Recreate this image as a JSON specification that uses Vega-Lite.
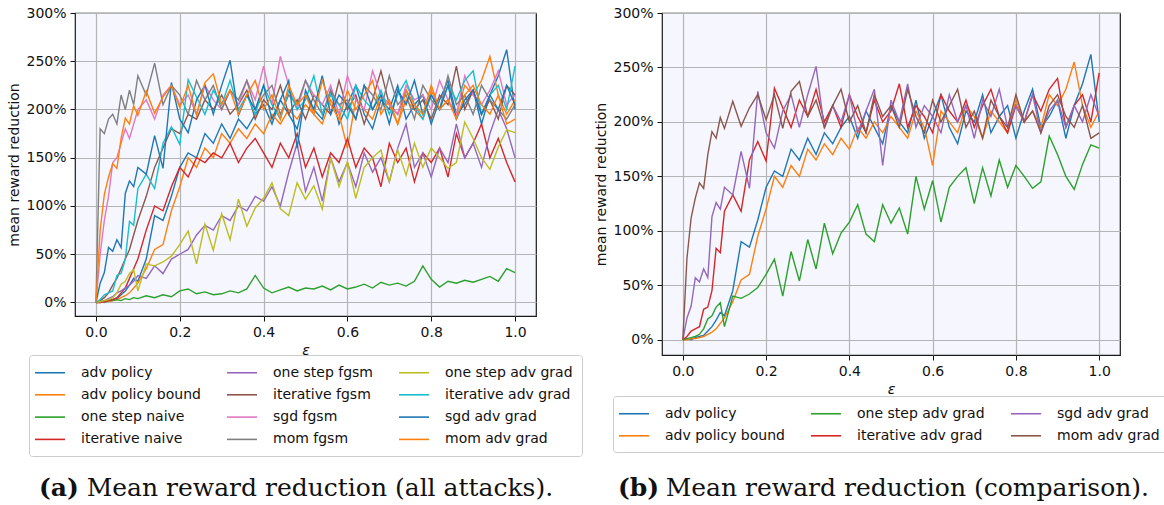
{
  "$schema": "https://vega.github.io/schema/vega-lite/v6.json",
  "background": "white",
  "padding": {"left": 7, "top": 5, "right": 0, "bottom": 0},
  "bounds": "flush",
  "spacing": 126,
  "config": {
    "font": "DejaVu Sans",
    "view": {"fill": "#f6f7fe", "stroke": "#1a1a1a", "strokeWidth": 1.2},
    "axis": {
      "labelFont": "DejaVu Sans", "labelFontSize": 14, "labelColor": "#111111",
      "titleFont": "DejaVu Sans", "titleFontSize": 14, "titleColor": "#111111", "titleFontWeight": "normal",
      "tickColor": "#111111", "tickSize": 5, "tickWidth": 1, "domain": false,
      "gridColor": "#b4b4b4", "gridWidth": 1.2, "labelPadding": 4, "titlePadding": 4
    },
    "legend": {
      "labelFont": "DejaVu Sans", "labelFontSize": 14, "labelColor": "#111111",
      "symbolType": "M-2,0H2", "symbolSize": 225, "symbolStrokeWidth": 1.6, "symbolOffset": 3.5,
      "labelOffset": 22.5, "columnPadding": 22, "rowPadding": 6.3, "padding": 9,
      "strokeColor": "#cccccc", "fillColor": "white", "cornerRadius": 3, "labelLimit": 0
    },
    "title": {
      "font": "DejaVu Serif", "fontSize": 25, "fontWeight": "bold", "color": "#111111",
      "subtitleFont": "DejaVu Serif", "subtitleFontSize": 25, "subtitleFontWeight": "normal", "subtitleColor": "#111111",
      "subtitlePadding": -25
    }
  },
  "resolve": {"scale": {"color": "independent"}, "legend": {"color": "independent"}},
  "datasets": {
    "runs": [
      {"e":0,"k":"adv policy","v":0},{"e":0.01,"k":"adv policy","v":1},{"e":0.02,"k":"adv policy","v":0},{"e":0.03,"k":"adv policy","v":2},{"e":0.04,"k":"adv policy","v":3},{"e":0.05,"k":"adv policy","v":4},{"e":0.06,"k":"adv policy","v":8},{"e":0.07,"k":"adv policy","v":12},{"e":0.08,"k":"adv policy","v":18},{"e":0.09,"k":"adv policy","v":25},{"e":0.1,"k":"adv policy","v":22},
      {"e":0.12,"k":"adv policy","v":45},{"e":0.14,"k":"adv policy","v":90},{"e":0.16,"k":"adv policy","v":85},{"e":0.18,"k":"adv policy","v":110},{"e":0.2,"k":"adv policy","v":140},{"e":0.22,"k":"adv policy","v":155},{"e":0.24,"k":"adv policy","v":150},{"e":0.26,"k":"adv policy","v":175},{"e":0.28,"k":"adv policy","v":165},{"e":0.3,"k":"adv policy","v":185},
      {"e":0.32,"k":"adv policy","v":170},{"e":0.34,"k":"adv policy","v":190},{"e":0.36,"k":"adv policy","v":180},{"e":0.38,"k":"adv policy","v":195},{"e":0.4,"k":"adv policy","v":205},{"e":0.42,"k":"adv policy","v":185},{"e":0.44,"k":"adv policy","v":210},{"e":0.46,"k":"adv policy","v":195},{"e":0.48,"k":"adv policy","v":180},{"e":0.5,"k":"adv policy","v":215},
      {"e":0.52,"k":"adv policy","v":200},{"e":0.54,"k":"adv policy","v":190},{"e":0.56,"k":"adv policy","v":220},{"e":0.58,"k":"adv policy","v":185},{"e":0.6,"k":"adv policy","v":205},{"e":0.62,"k":"adv policy","v":225},{"e":0.64,"k":"adv policy","v":195},{"e":0.66,"k":"adv policy","v":180},{"e":0.68,"k":"adv policy","v":210},{"e":0.7,"k":"adv policy","v":200},
      {"e":0.72,"k":"adv policy","v":225},{"e":0.74,"k":"adv policy","v":190},{"e":0.76,"k":"adv policy","v":205},{"e":0.78,"k":"adv policy","v":215},{"e":0.8,"k":"adv policy","v":185},{"e":0.82,"k":"adv policy","v":210},{"e":0.84,"k":"adv policy","v":230},{"e":0.86,"k":"adv policy","v":195},{"e":0.88,"k":"adv policy","v":205},{"e":0.9,"k":"adv policy","v":220},
      {"e":0.92,"k":"adv policy","v":185},{"e":0.94,"k":"adv policy","v":215},{"e":0.96,"k":"adv policy","v":235},{"e":0.98,"k":"adv policy","v":262},{"e":1,"k":"adv policy","v":200},

      {"e":0,"k":"adv policy bound","v":0},{"e":0.01,"k":"adv policy bound","v":0},{"e":0.02,"k":"adv policy bound","v":1},{"e":0.03,"k":"adv policy bound","v":1},{"e":0.04,"k":"adv policy bound","v":2},{"e":0.05,"k":"adv policy bound","v":3},{"e":0.06,"k":"adv policy bound","v":5},{"e":0.07,"k":"adv policy bound","v":7},{"e":0.08,"k":"adv policy bound","v":10},{"e":0.09,"k":"adv policy bound","v":15},{"e":0.1,"k":"adv policy bound","v":20},
      {"e":0.12,"k":"adv policy bound","v":35},{"e":0.14,"k":"adv policy bound","v":55},{"e":0.16,"k":"adv policy bound","v":60},{"e":0.18,"k":"adv policy bound","v":95},{"e":0.2,"k":"adv policy bound","v":120},{"e":0.22,"k":"adv policy bound","v":150},{"e":0.24,"k":"adv policy bound","v":140},{"e":0.26,"k":"adv policy bound","v":160},{"e":0.28,"k":"adv policy bound","v":150},{"e":0.3,"k":"adv policy bound","v":175},
      {"e":0.32,"k":"adv policy bound","v":165},{"e":0.34,"k":"adv policy bound","v":180},{"e":0.36,"k":"adv policy bound","v":170},{"e":0.38,"k":"adv policy bound","v":185},{"e":0.4,"k":"adv policy bound","v":175},{"e":0.42,"k":"adv policy bound","v":195},{"e":0.44,"k":"adv policy bound","v":185},{"e":0.46,"k":"adv policy bound","v":200},{"e":0.48,"k":"adv policy bound","v":190},{"e":0.5,"k":"adv policy bound","v":205},
      {"e":0.52,"k":"adv policy bound","v":195},{"e":0.54,"k":"adv policy bound","v":185},{"e":0.56,"k":"adv policy bound","v":210},{"e":0.58,"k":"adv policy bound","v":195},{"e":0.6,"k":"adv policy bound","v":160},{"e":0.62,"k":"adv policy bound","v":210},{"e":0.64,"k":"adv policy bound","v":200},{"e":0.66,"k":"adv policy bound","v":190},{"e":0.68,"k":"adv policy bound","v":215},{"e":0.7,"k":"adv policy bound","v":205},
      {"e":0.72,"k":"adv policy bound","v":185},{"e":0.74,"k":"adv policy bound","v":210},{"e":0.76,"k":"adv policy bound","v":200},{"e":0.78,"k":"adv policy bound","v":190},{"e":0.8,"k":"adv policy bound","v":220},{"e":0.82,"k":"adv policy bound","v":200},{"e":0.84,"k":"adv policy bound","v":210},{"e":0.86,"k":"adv policy bound","v":195},{"e":0.88,"k":"adv policy bound","v":225},{"e":0.9,"k":"adv policy bound","v":215},
      {"e":0.92,"k":"adv policy bound","v":230},{"e":0.94,"k":"adv policy bound","v":255},{"e":0.96,"k":"adv policy bound","v":215},{"e":0.98,"k":"adv policy bound","v":195},{"e":1,"k":"adv policy bound","v":210},

      {"e":0,"k":"one step naive","v":0},{"e":0.01,"k":"one step naive","v":1},{"e":0.02,"k":"one step naive","v":1},{"e":0.03,"k":"one step naive","v":2},{"e":0.04,"k":"one step naive","v":2},{"e":0.05,"k":"one step naive","v":3},{"e":0.06,"k":"one step naive","v":2},{"e":0.07,"k":"one step naive","v":4},{"e":0.08,"k":"one step naive","v":3},{"e":0.09,"k":"one step naive","v":5},{"e":0.1,"k":"one step naive","v":4},
      {"e":0.12,"k":"one step naive","v":7},{"e":0.14,"k":"one step naive","v":5},{"e":0.16,"k":"one step naive","v":8},{"e":0.18,"k":"one step naive","v":6},{"e":0.2,"k":"one step naive","v":12},{"e":0.22,"k":"one step naive","v":14},{"e":0.24,"k":"one step naive","v":9},{"e":0.26,"k":"one step naive","v":11},{"e":0.28,"k":"one step naive","v":8},{"e":0.3,"k":"one step naive","v":9},
      {"e":0.32,"k":"one step naive","v":12},{"e":0.34,"k":"one step naive","v":10},{"e":0.36,"k":"one step naive","v":14},{"e":0.38,"k":"one step naive","v":28},{"e":0.4,"k":"one step naive","v":15},{"e":0.42,"k":"one step naive","v":10},{"e":0.44,"k":"one step naive","v":13},{"e":0.46,"k":"one step naive","v":16},{"e":0.48,"k":"one step naive","v":12},{"e":0.5,"k":"one step naive","v":15},
      {"e":0.52,"k":"one step naive","v":14},{"e":0.54,"k":"one step naive","v":17},{"e":0.56,"k":"one step naive","v":13},{"e":0.58,"k":"one step naive","v":18},{"e":0.6,"k":"one step naive","v":14},{"e":0.62,"k":"one step naive","v":16},{"e":0.64,"k":"one step naive","v":19},{"e":0.66,"k":"one step naive","v":15},{"e":0.68,"k":"one step naive","v":21},{"e":0.7,"k":"one step naive","v":18},
      {"e":0.72,"k":"one step naive","v":20},{"e":0.74,"k":"one step naive","v":17},{"e":0.76,"k":"one step naive","v":22},{"e":0.78,"k":"one step naive","v":38},{"e":0.8,"k":"one step naive","v":24},{"e":0.82,"k":"one step naive","v":16},{"e":0.84,"k":"one step naive","v":22},{"e":0.86,"k":"one step naive","v":20},{"e":0.88,"k":"one step naive","v":23},{"e":0.9,"k":"one step naive","v":21},
      {"e":0.92,"k":"one step naive","v":24},{"e":0.94,"k":"one step naive","v":27},{"e":0.96,"k":"one step naive","v":22},{"e":0.98,"k":"one step naive","v":35},{"e":1,"k":"one step naive","v":31},

      {"e":0,"k":"iterative naive","v":0},{"e":0.01,"k":"iterative naive","v":0},{"e":0.02,"k":"iterative naive","v":1},{"e":0.03,"k":"iterative naive","v":2},{"e":0.04,"k":"iterative naive","v":3},{"e":0.05,"k":"iterative naive","v":5},{"e":0.06,"k":"iterative naive","v":10},{"e":0.07,"k":"iterative naive","v":15},{"e":0.08,"k":"iterative naive","v":25},{"e":0.09,"k":"iterative naive","v":35},{"e":0.1,"k":"iterative naive","v":45},
      {"e":0.12,"k":"iterative naive","v":75},{"e":0.14,"k":"iterative naive","v":100},{"e":0.16,"k":"iterative naive","v":95},{"e":0.18,"k":"iterative naive","v":120},{"e":0.2,"k":"iterative naive","v":140},{"e":0.22,"k":"iterative naive","v":130},{"e":0.24,"k":"iterative naive","v":150},{"e":0.26,"k":"iterative naive","v":145},{"e":0.28,"k":"iterative naive","v":155},{"e":0.3,"k":"iterative naive","v":150},
      {"e":0.32,"k":"iterative naive","v":165},{"e":0.34,"k":"iterative naive","v":145},{"e":0.36,"k":"iterative naive","v":160},{"e":0.38,"k":"iterative naive","v":170},{"e":0.4,"k":"iterative naive","v":155},{"e":0.42,"k":"iterative naive","v":140},{"e":0.44,"k":"iterative naive","v":165},{"e":0.46,"k":"iterative naive","v":150},{"e":0.48,"k":"iterative naive","v":175},{"e":0.5,"k":"iterative naive","v":140},
      {"e":0.52,"k":"iterative naive","v":160},{"e":0.54,"k":"iterative naive","v":130},{"e":0.56,"k":"iterative naive","v":155},{"e":0.58,"k":"iterative naive","v":145},{"e":0.6,"k":"iterative naive","v":170},{"e":0.62,"k":"iterative naive","v":140},{"e":0.64,"k":"iterative naive","v":160},{"e":0.66,"k":"iterative naive","v":150},{"e":0.68,"k":"iterative naive","v":120},{"e":0.7,"k":"iterative naive","v":165},
      {"e":0.72,"k":"iterative naive","v":145},{"e":0.74,"k":"iterative naive","v":160},{"e":0.76,"k":"iterative naive","v":125},{"e":0.78,"k":"iterative naive","v":155},{"e":0.8,"k":"iterative naive","v":145},{"e":0.82,"k":"iterative naive","v":160},{"e":0.84,"k":"iterative naive","v":130},{"e":0.86,"k":"iterative naive","v":175},{"e":0.88,"k":"iterative naive","v":150},{"e":0.9,"k":"iterative naive","v":165},
      {"e":0.92,"k":"iterative naive","v":185},{"e":0.94,"k":"iterative naive","v":150},{"e":0.96,"k":"iterative naive","v":170},{"e":0.98,"k":"iterative naive","v":145},{"e":1,"k":"iterative naive","v":125},

      {"e":0,"k":"one step fgsm","v":0},{"e":0.01,"k":"one step fgsm","v":1},{"e":0.02,"k":"one step fgsm","v":2},{"e":0.03,"k":"one step fgsm","v":4},{"e":0.04,"k":"one step fgsm","v":6},{"e":0.05,"k":"one step fgsm","v":10},{"e":0.06,"k":"one step fgsm","v":12},{"e":0.07,"k":"one step fgsm","v":15},{"e":0.08,"k":"one step fgsm","v":18},{"e":0.09,"k":"one step fgsm","v":22},{"e":0.1,"k":"one step fgsm","v":28},
      {"e":0.12,"k":"one step fgsm","v":25},{"e":0.14,"k":"one step fgsm","v":38},{"e":0.16,"k":"one step fgsm","v":30},{"e":0.18,"k":"one step fgsm","v":45},{"e":0.2,"k":"one step fgsm","v":50},{"e":0.22,"k":"one step fgsm","v":55},{"e":0.24,"k":"one step fgsm","v":70},{"e":0.26,"k":"one step fgsm","v":80},{"e":0.28,"k":"one step fgsm","v":75},{"e":0.3,"k":"one step fgsm","v":90},
      {"e":0.32,"k":"one step fgsm","v":85},{"e":0.34,"k":"one step fgsm","v":100},{"e":0.36,"k":"one step fgsm","v":95},{"e":0.38,"k":"one step fgsm","v":110},{"e":0.4,"k":"one step fgsm","v":105},{"e":0.42,"k":"one step fgsm","v":120},{"e":0.44,"k":"one step fgsm","v":100},{"e":0.46,"k":"one step fgsm","v":135},{"e":0.48,"k":"one step fgsm","v":165},{"e":0.5,"k":"one step fgsm","v":115},
      {"e":0.52,"k":"one step fgsm","v":140},{"e":0.54,"k":"one step fgsm","v":105},{"e":0.56,"k":"one step fgsm","v":150},{"e":0.58,"k":"one step fgsm","v":125},{"e":0.6,"k":"one step fgsm","v":145},{"e":0.62,"k":"one step fgsm","v":120},{"e":0.64,"k":"one step fgsm","v":155},{"e":0.66,"k":"one step fgsm","v":135},{"e":0.68,"k":"one step fgsm","v":150},{"e":0.7,"k":"one step fgsm","v":125},
      {"e":0.72,"k":"one step fgsm","v":160},{"e":0.74,"k":"one step fgsm","v":185},{"e":0.76,"k":"one step fgsm","v":140},{"e":0.78,"k":"one step fgsm","v":155},{"e":0.8,"k":"one step fgsm","v":130},{"e":0.82,"k":"one step fgsm","v":160},{"e":0.84,"k":"one step fgsm","v":145},{"e":0.86,"k":"one step fgsm","v":185},{"e":0.88,"k":"one step fgsm","v":150},{"e":0.9,"k":"one step fgsm","v":165},
      {"e":0.92,"k":"one step fgsm","v":140},{"e":0.94,"k":"one step fgsm","v":175},{"e":0.96,"k":"one step fgsm","v":200},{"e":0.98,"k":"one step fgsm","v":180},{"e":1,"k":"one step fgsm","v":150},

      {"e":0,"k":"iterative fgsm","v":0},{"e":0.01,"k":"iterative fgsm","v":2},{"e":0.02,"k":"iterative fgsm","v":5},{"e":0.03,"k":"iterative fgsm","v":10},{"e":0.04,"k":"iterative fgsm","v":18},{"e":0.05,"k":"iterative fgsm","v":25},{"e":0.06,"k":"iterative fgsm","v":35},{"e":0.07,"k":"iterative fgsm","v":45},{"e":0.08,"k":"iterative fgsm","v":55},{"e":0.09,"k":"iterative fgsm","v":70},{"e":0.1,"k":"iterative fgsm","v":85},
      {"e":0.12,"k":"iterative fgsm","v":110},{"e":0.14,"k":"iterative fgsm","v":140},{"e":0.16,"k":"iterative fgsm","v":160},{"e":0.18,"k":"iterative fgsm","v":180},{"e":0.2,"k":"iterative fgsm","v":175},{"e":0.22,"k":"iterative fgsm","v":195},{"e":0.24,"k":"iterative fgsm","v":190},{"e":0.26,"k":"iterative fgsm","v":210},{"e":0.28,"k":"iterative fgsm","v":200},{"e":0.3,"k":"iterative fgsm","v":215},
      {"e":0.32,"k":"iterative fgsm","v":195},{"e":0.34,"k":"iterative fgsm","v":205},{"e":0.36,"k":"iterative fgsm","v":220},{"e":0.38,"k":"iterative fgsm","v":190},{"e":0.4,"k":"iterative fgsm","v":210},{"e":0.42,"k":"iterative fgsm","v":200},{"e":0.44,"k":"iterative fgsm","v":225},{"e":0.46,"k":"iterative fgsm","v":195},{"e":0.48,"k":"iterative fgsm","v":210},{"e":0.5,"k":"iterative fgsm","v":190},
      {"e":0.52,"k":"iterative fgsm","v":215},{"e":0.54,"k":"iterative fgsm","v":205},{"e":0.56,"k":"iterative fgsm","v":195},{"e":0.58,"k":"iterative fgsm","v":230},{"e":0.6,"k":"iterative fgsm","v":200},{"e":0.62,"k":"iterative fgsm","v":215},{"e":0.64,"k":"iterative fgsm","v":185},{"e":0.66,"k":"iterative fgsm","v":210},{"e":0.68,"k":"iterative fgsm","v":240},{"e":0.7,"k":"iterative fgsm","v":205},
      {"e":0.72,"k":"iterative fgsm","v":195},{"e":0.74,"k":"iterative fgsm","v":220},{"e":0.76,"k":"iterative fgsm","v":200},{"e":0.78,"k":"iterative fgsm","v":210},{"e":0.8,"k":"iterative fgsm","v":190},{"e":0.82,"k":"iterative fgsm","v":215},{"e":0.84,"k":"iterative fgsm","v":205},{"e":0.86,"k":"iterative fgsm","v":245},{"e":0.88,"k":"iterative fgsm","v":200},{"e":0.9,"k":"iterative fgsm","v":220},
      {"e":0.92,"k":"iterative fgsm","v":195},{"e":0.94,"k":"iterative fgsm","v":210},{"e":0.96,"k":"iterative fgsm","v":190},{"e":0.98,"k":"iterative fgsm","v":225},{"e":1,"k":"iterative fgsm","v":215},

      {"e":0,"k":"sgd fgsm","v":0},{"e":0.01,"k":"sgd fgsm","v":50},{"e":0.02,"k":"sgd fgsm","v":85},{"e":0.03,"k":"sgd fgsm","v":110},{"e":0.04,"k":"sgd fgsm","v":145},{"e":0.05,"k":"sgd fgsm","v":150},{"e":0.06,"k":"sgd fgsm","v":165},{"e":0.07,"k":"sgd fgsm","v":180},{"e":0.08,"k":"sgd fgsm","v":170},{"e":0.09,"k":"sgd fgsm","v":185},{"e":0.1,"k":"sgd fgsm","v":200},
      {"e":0.12,"k":"sgd fgsm","v":210},{"e":0.14,"k":"sgd fgsm","v":190},{"e":0.16,"k":"sgd fgsm","v":215},{"e":0.18,"k":"sgd fgsm","v":225},{"e":0.2,"k":"sgd fgsm","v":205},{"e":0.22,"k":"sgd fgsm","v":215},{"e":0.24,"k":"sgd fgsm","v":195},{"e":0.26,"k":"sgd fgsm","v":225},{"e":0.28,"k":"sgd fgsm","v":210},{"e":0.3,"k":"sgd fgsm","v":200},
      {"e":0.32,"k":"sgd fgsm","v":220},{"e":0.34,"k":"sgd fgsm","v":205},{"e":0.36,"k":"sgd fgsm","v":230},{"e":0.38,"k":"sgd fgsm","v":210},{"e":0.4,"k":"sgd fgsm","v":245},{"e":0.42,"k":"sgd fgsm","v":205},{"e":0.44,"k":"sgd fgsm","v":255},{"e":0.46,"k":"sgd fgsm","v":225},{"e":0.48,"k":"sgd fgsm","v":200},{"e":0.5,"k":"sgd fgsm","v":230},
      {"e":0.52,"k":"sgd fgsm","v":215},{"e":0.54,"k":"sgd fgsm","v":205},{"e":0.56,"k":"sgd fgsm","v":225},{"e":0.58,"k":"sgd fgsm","v":195},{"e":0.6,"k":"sgd fgsm","v":235},{"e":0.62,"k":"sgd fgsm","v":210},{"e":0.64,"k":"sgd fgsm","v":200},{"e":0.66,"k":"sgd fgsm","v":240},{"e":0.68,"k":"sgd fgsm","v":215},{"e":0.7,"k":"sgd fgsm","v":205},
      {"e":0.72,"k":"sgd fgsm","v":195},{"e":0.74,"k":"sgd fgsm","v":225},{"e":0.76,"k":"sgd fgsm","v":210},{"e":0.78,"k":"sgd fgsm","v":215},{"e":0.8,"k":"sgd fgsm","v":200},{"e":0.82,"k":"sgd fgsm","v":230},{"e":0.84,"k":"sgd fgsm","v":210},{"e":0.86,"k":"sgd fgsm","v":195},{"e":0.88,"k":"sgd fgsm","v":235},{"e":0.9,"k":"sgd fgsm","v":215},
      {"e":0.92,"k":"sgd fgsm","v":205},{"e":0.94,"k":"sgd fgsm","v":220},{"e":0.96,"k":"sgd fgsm","v":240},{"e":0.98,"k":"sgd fgsm","v":205},{"e":1,"k":"sgd fgsm","v":215},

      {"e":0,"k":"mom fgsm","v":0},{"e":0.01,"k":"mom fgsm","v":180},{"e":0.02,"k":"mom fgsm","v":175},{"e":0.03,"k":"mom fgsm","v":190},{"e":0.04,"k":"mom fgsm","v":195},{"e":0.05,"k":"mom fgsm","v":185},{"e":0.06,"k":"mom fgsm","v":215},{"e":0.07,"k":"mom fgsm","v":200},{"e":0.08,"k":"mom fgsm","v":220},{"e":0.09,"k":"mom fgsm","v":205},{"e":0.1,"k":"mom fgsm","v":235},
      {"e":0.12,"k":"mom fgsm","v":215},{"e":0.14,"k":"mom fgsm","v":248},{"e":0.16,"k":"mom fgsm","v":205},{"e":0.18,"k":"mom fgsm","v":225},{"e":0.2,"k":"mom fgsm","v":215},{"e":0.22,"k":"mom fgsm","v":195},{"e":0.24,"k":"mom fgsm","v":230},{"e":0.26,"k":"mom fgsm","v":210},{"e":0.28,"k":"mom fgsm","v":225},{"e":0.3,"k":"mom fgsm","v":200},
      {"e":0.32,"k":"mom fgsm","v":220},{"e":0.34,"k":"mom fgsm","v":210},{"e":0.36,"k":"mom fgsm","v":230},{"e":0.38,"k":"mom fgsm","v":200},{"e":0.4,"k":"mom fgsm","v":215},{"e":0.42,"k":"mom fgsm","v":225},{"e":0.44,"k":"mom fgsm","v":195},{"e":0.46,"k":"mom fgsm","v":215},{"e":0.48,"k":"mom fgsm","v":205},{"e":0.5,"k":"mom fgsm","v":230},
      {"e":0.52,"k":"mom fgsm","v":210},{"e":0.54,"k":"mom fgsm","v":195},{"e":0.56,"k":"mom fgsm","v":220},{"e":0.58,"k":"mom fgsm","v":205},{"e":0.6,"k":"mom fgsm","v":210},{"e":0.62,"k":"mom fgsm","v":190},{"e":0.64,"k":"mom fgsm","v":225},{"e":0.66,"k":"mom fgsm","v":215},{"e":0.68,"k":"mom fgsm","v":200},{"e":0.7,"k":"mom fgsm","v":235},
      {"e":0.72,"k":"mom fgsm","v":205},{"e":0.74,"k":"mom fgsm","v":215},{"e":0.76,"k":"mom fgsm","v":190},{"e":0.78,"k":"mom fgsm","v":225},{"e":0.8,"k":"mom fgsm","v":210},{"e":0.82,"k":"mom fgsm","v":200},{"e":0.84,"k":"mom fgsm","v":235},{"e":0.86,"k":"mom fgsm","v":205},{"e":0.88,"k":"mom fgsm","v":215},{"e":0.9,"k":"mom fgsm","v":195},
      {"e":0.92,"k":"mom fgsm","v":225},{"e":0.94,"k":"mom fgsm","v":210},{"e":0.96,"k":"mom fgsm","v":200},{"e":0.98,"k":"mom fgsm","v":190},{"e":1,"k":"mom fgsm","v":205},

      {"e":0,"k":"one step adv grad","v":0},{"e":0.01,"k":"one step adv grad","v":1},{"e":0.02,"k":"one step adv grad","v":2},{"e":0.03,"k":"one step adv grad","v":3},{"e":0.04,"k":"one step adv grad","v":5},{"e":0.05,"k":"one step adv grad","v":10},{"e":0.06,"k":"one step adv grad","v":19},{"e":0.07,"k":"one step adv grad","v":22},{"e":0.08,"k":"one step adv grad","v":30},{"e":0.09,"k":"one step adv grad","v":34},{"e":0.1,"k":"one step adv grad","v":12},
      {"e":0.12,"k":"one step adv grad","v":40},{"e":0.14,"k":"one step adv grad","v":38},{"e":0.16,"k":"one step adv grad","v":42},{"e":0.18,"k":"one step adv grad","v":48},{"e":0.2,"k":"one step adv grad","v":60},{"e":0.22,"k":"one step adv grad","v":74},{"e":0.24,"k":"one step adv grad","v":40},{"e":0.26,"k":"one step adv grad","v":81},{"e":0.28,"k":"one step adv grad","v":54},{"e":0.3,"k":"one step adv grad","v":92},
      {"e":0.32,"k":"one step adv grad","v":65},{"e":0.34,"k":"one step adv grad","v":107},{"e":0.36,"k":"one step adv grad","v":79},{"e":0.38,"k":"one step adv grad","v":98},{"e":0.4,"k":"one step adv grad","v":108},{"e":0.42,"k":"one step adv grad","v":124},{"e":0.44,"k":"one step adv grad","v":97},{"e":0.46,"k":"one step adv grad","v":90},{"e":0.48,"k":"one step adv grad","v":124},{"e":0.5,"k":"one step adv grad","v":107},
      {"e":0.52,"k":"one step adv grad","v":121},{"e":0.54,"k":"one step adv grad","v":97},{"e":0.56,"k":"one step adv grad","v":150},{"e":0.58,"k":"one step adv grad","v":120},{"e":0.6,"k":"one step adv grad","v":146},{"e":0.62,"k":"one step adv grad","v":108},{"e":0.64,"k":"one step adv grad","v":140},{"e":0.66,"k":"one step adv grad","v":150},{"e":0.68,"k":"one step adv grad","v":158},{"e":0.7,"k":"one step adv grad","v":125},
      {"e":0.72,"k":"one step adv grad","v":158},{"e":0.74,"k":"one step adv grad","v":132},{"e":0.76,"k":"one step adv grad","v":165},{"e":0.78,"k":"one step adv grad","v":140},{"e":0.8,"k":"one step adv grad","v":160},{"e":0.82,"k":"one step adv grad","v":150},{"e":0.84,"k":"one step adv grad","v":139},{"e":0.86,"k":"one step adv grad","v":145},{"e":0.88,"k":"one step adv grad","v":187},{"e":0.9,"k":"one step adv grad","v":170},
      {"e":0.92,"k":"one step adv grad","v":150},{"e":0.94,"k":"one step adv grad","v":138},{"e":0.96,"k":"one step adv grad","v":161},{"e":0.98,"k":"one step adv grad","v":179},{"e":1,"k":"one step adv grad","v":176},

      {"e":0,"k":"iterative adv grad","v":0},{"e":0.01,"k":"iterative adv grad","v":3},{"e":0.02,"k":"iterative adv grad","v":8},{"e":0.03,"k":"iterative adv grad","v":10},{"e":0.04,"k":"iterative adv grad","v":12},{"e":0.05,"k":"iterative adv grad","v":28},{"e":0.06,"k":"iterative adv grad","v":30},{"e":0.07,"k":"iterative adv grad","v":45},{"e":0.08,"k":"iterative adv grad","v":84},{"e":0.09,"k":"iterative adv grad","v":80},{"e":0.1,"k":"iterative adv grad","v":118},
      {"e":0.12,"k":"iterative adv grad","v":133},{"e":0.14,"k":"iterative adv grad","v":118},{"e":0.16,"k":"iterative adv grad","v":165},{"e":0.18,"k":"iterative adv grad","v":182},{"e":0.2,"k":"iterative adv grad","v":164},{"e":0.22,"k":"iterative adv grad","v":231},{"e":0.24,"k":"iterative adv grad","v":213},{"e":0.26,"k":"iterative adv grad","v":195},{"e":0.28,"k":"iterative adv grad","v":220},{"e":0.3,"k":"iterative adv grad","v":205},
      {"e":0.32,"k":"iterative adv grad","v":230},{"e":0.34,"k":"iterative adv grad","v":200},{"e":0.36,"k":"iterative adv grad","v":215},{"e":0.38,"k":"iterative adv grad","v":195},{"e":0.4,"k":"iterative adv grad","v":225},{"e":0.42,"k":"iterative adv grad","v":205},{"e":0.44,"k":"iterative adv grad","v":190},{"e":0.46,"k":"iterative adv grad","v":220},{"e":0.48,"k":"iterative adv grad","v":200},{"e":0.5,"k":"iterative adv grad","v":210},
      {"e":0.52,"k":"iterative adv grad","v":235},{"e":0.54,"k":"iterative adv grad","v":195},{"e":0.56,"k":"iterative adv grad","v":215},{"e":0.58,"k":"iterative adv grad","v":205},{"e":0.6,"k":"iterative adv grad","v":190},{"e":0.62,"k":"iterative adv grad","v":225},{"e":0.64,"k":"iterative adv grad","v":210},{"e":0.66,"k":"iterative adv grad","v":200},{"e":0.68,"k":"iterative adv grad","v":220},{"e":0.7,"k":"iterative adv grad","v":195},
      {"e":0.72,"k":"iterative adv grad","v":215},{"e":0.74,"k":"iterative adv grad","v":230},{"e":0.76,"k":"iterative adv grad","v":205},{"e":0.78,"k":"iterative adv grad","v":190},{"e":0.8,"k":"iterative adv grad","v":215},{"e":0.82,"k":"iterative adv grad","v":200},{"e":0.84,"k":"iterative adv grad","v":225},{"e":0.86,"k":"iterative adv grad","v":210},{"e":0.88,"k":"iterative adv grad","v":230},{"e":0.9,"k":"iterative adv grad","v":240},
      {"e":0.92,"k":"iterative adv grad","v":195},{"e":0.94,"k":"iterative adv grad","v":215},{"e":0.96,"k":"iterative adv grad","v":225},{"e":0.98,"k":"iterative adv grad","v":200},{"e":1,"k":"iterative adv grad","v":245},

      {"e":0,"k":"sgd adv grad","v":0},{"e":0.01,"k":"sgd adv grad","v":20},{"e":0.02,"k":"sgd adv grad","v":31},{"e":0.03,"k":"sgd adv grad","v":57},{"e":0.04,"k":"sgd adv grad","v":53},{"e":0.05,"k":"sgd adv grad","v":65},{"e":0.06,"k":"sgd adv grad","v":57},{"e":0.07,"k":"sgd adv grad","v":113},{"e":0.08,"k":"sgd adv grad","v":126},{"e":0.09,"k":"sgd adv grad","v":120},{"e":0.1,"k":"sgd adv grad","v":140},
      {"e":0.12,"k":"sgd adv grad","v":133},{"e":0.14,"k":"sgd adv grad","v":173},{"e":0.16,"k":"sgd adv grad","v":139},{"e":0.18,"k":"sgd adv grad","v":228},{"e":0.2,"k":"sgd adv grad","v":190},{"e":0.22,"k":"sgd adv grad","v":176},{"e":0.24,"k":"sgd adv grad","v":210},{"e":0.26,"k":"sgd adv grad","v":225},{"e":0.28,"k":"sgd adv grad","v":195},{"e":0.3,"k":"sgd adv grad","v":225},
      {"e":0.32,"k":"sgd adv grad","v":251},{"e":0.34,"k":"sgd adv grad","v":194},{"e":0.36,"k":"sgd adv grad","v":215},{"e":0.38,"k":"sgd adv grad","v":200},{"e":0.4,"k":"sgd adv grad","v":225},{"e":0.42,"k":"sgd adv grad","v":190},{"e":0.44,"k":"sgd adv grad","v":210},{"e":0.46,"k":"sgd adv grad","v":230},{"e":0.48,"k":"sgd adv grad","v":160},{"e":0.5,"k":"sgd adv grad","v":220},
      {"e":0.52,"k":"sgd adv grad","v":200},{"e":0.54,"k":"sgd adv grad","v":235},{"e":0.56,"k":"sgd adv grad","v":195},{"e":0.58,"k":"sgd adv grad","v":215},{"e":0.6,"k":"sgd adv grad","v":205},{"e":0.62,"k":"sgd adv grad","v":190},{"e":0.64,"k":"sgd adv grad","v":225},{"e":0.66,"k":"sgd adv grad","v":200},{"e":0.68,"k":"sgd adv grad","v":215},{"e":0.7,"k":"sgd adv grad","v":185},
      {"e":0.72,"k":"sgd adv grad","v":220},{"e":0.74,"k":"sgd adv grad","v":205},{"e":0.76,"k":"sgd adv grad","v":230},{"e":0.78,"k":"sgd adv grad","v":195},{"e":0.8,"k":"sgd adv grad","v":215},{"e":0.82,"k":"sgd adv grad","v":200},{"e":0.84,"k":"sgd adv grad","v":225},{"e":0.86,"k":"sgd adv grad","v":190},{"e":0.88,"k":"sgd adv grad","v":210},{"e":0.9,"k":"sgd adv grad","v":220},
      {"e":0.92,"k":"sgd adv grad","v":195},{"e":0.94,"k":"sgd adv grad","v":215},{"e":0.96,"k":"sgd adv grad","v":200},{"e":0.98,"k":"sgd adv grad","v":225},{"e":1,"k":"sgd adv grad","v":205},

      {"e":0,"k":"mom adv grad","v":0},{"e":0.01,"k":"mom adv grad","v":75},{"e":0.02,"k":"mom adv grad","v":112},{"e":0.03,"k":"mom adv grad","v":130},{"e":0.04,"k":"mom adv grad","v":144},{"e":0.05,"k":"mom adv grad","v":139},{"e":0.06,"k":"mom adv grad","v":170},{"e":0.07,"k":"mom adv grad","v":191},{"e":0.08,"k":"mom adv grad","v":185},{"e":0.09,"k":"mom adv grad","v":204},{"e":0.1,"k":"mom adv grad","v":194},
      {"e":0.12,"k":"mom adv grad","v":219},{"e":0.14,"k":"mom adv grad","v":196},{"e":0.16,"k":"mom adv grad","v":213},{"e":0.18,"k":"mom adv grad","v":225},{"e":0.2,"k":"mom adv grad","v":202},{"e":0.22,"k":"mom adv grad","v":225},{"e":0.24,"k":"mom adv grad","v":194},{"e":0.26,"k":"mom adv grad","v":228},{"e":0.28,"k":"mom adv grad","v":237},{"e":0.3,"k":"mom adv grad","v":205},
      {"e":0.32,"k":"mom adv grad","v":220},{"e":0.34,"k":"mom adv grad","v":195},{"e":0.36,"k":"mom adv grad","v":215},{"e":0.38,"k":"mom adv grad","v":230},{"e":0.4,"k":"mom adv grad","v":200},{"e":0.42,"k":"mom adv grad","v":215},{"e":0.44,"k":"mom adv grad","v":190},{"e":0.46,"k":"mom adv grad","v":225},{"e":0.48,"k":"mom adv grad","v":205},{"e":0.5,"k":"mom adv grad","v":215},
      {"e":0.52,"k":"mom adv grad","v":195},{"e":0.54,"k":"mom adv grad","v":230},{"e":0.56,"k":"mom adv grad","v":205},{"e":0.58,"k":"mom adv grad","v":190},{"e":0.6,"k":"mom adv grad","v":220},{"e":0.62,"k":"mom adv grad","v":200},{"e":0.64,"k":"mom adv grad","v":215},{"e":0.66,"k":"mom adv grad","v":230},{"e":0.68,"k":"mom adv grad","v":195},{"e":0.7,"k":"mom adv grad","v":210},
      {"e":0.72,"k":"mom adv grad","v":185},{"e":0.74,"k":"mom adv grad","v":220},{"e":0.76,"k":"mom adv grad","v":205},{"e":0.78,"k":"mom adv grad","v":195},{"e":0.8,"k":"mom adv grad","v":225},{"e":0.82,"k":"mom adv grad","v":200},{"e":0.84,"k":"mom adv grad","v":210},{"e":0.86,"k":"mom adv grad","v":190},{"e":0.88,"k":"mom adv grad","v":215},{"e":0.9,"k":"mom adv grad","v":225},
      {"e":0.92,"k":"mom adv grad","v":205},{"e":0.94,"k":"mom adv grad","v":195},{"e":0.96,"k":"mom adv grad","v":215},{"e":0.98,"k":"mom adv grad","v":185},{"e":1,"k":"mom adv grad","v":190}
    ]
  },
  "hconcat": [
    {
      "width": 461,
      "height": 303,
      "data": {"name": "runs"},
      "title": {"text": "(a)", "subtitle": "\u200b\u00a0\u00a0\u00a0\u00a0\u00a0\u00a0Mean reward reduction (all attacks).", "orient": "bottom", "anchor": "start", "frame": "group", "dx": -36, "offset": 19},
      "mark": {"type": "line", "strokeWidth": 1.4, "clip": true},
      "encoding": {
        "x": {"field": "e", "type": "quantitative",
              "scale": {"domain": [-0.05, 1.05], "nice": false, "zero": false},
              "axis": {"values": [0, 0.2, 0.4, 0.6, 0.8, 1.0], "format": ".1f", "title": "ε", "titleFontStyle": "italic"}},
        "y": {"field": "v", "type": "quantitative",
              "scale": {"domain": [-14, 300], "nice": false, "zero": false},
              "axis": {"values": [0, 50, 100, 150, 200, 250, 300], "labelExpr": "datum.value + '%'", "title": "mean reward reduction"}},
        "color": {"field": "k", "type": "nominal",
                  "scale": {"domain": ["adv policy", "adv policy bound", "one step naive", "iterative naive", "one step fgsm", "iterative fgsm", "sgd fgsm", "mom fgsm", "one step adv grad", "iterative adv grad", "sgd adv grad", "mom adv grad"],
                            "range": ["#1f77b4", "#ff7f0e", "#2ca02c", "#d62728", "#9467bd", "#8c564b", "#e377c2", "#7f7f7f", "#bcbd22", "#17becf", "#1f77b4", "#ff7f0e"]},
                  "legend": {"title": null, "orient": "none", "legendX": -46, "legendY": 342, "columns": 3}}
      }
    },
    {
      "width": 458,
      "height": 342,
      "data": {"name": "runs"},
      "transform": [{"filter": {"field": "k", "oneOf": ["adv policy", "adv policy bound", "one step adv grad", "iterative adv grad", "sgd adv grad", "mom adv grad"]}}],
      "title": {"text": "(b)", "subtitle": "\u200b\u00a0\u00a0\u00a0\u00a0\u00a0\u00a0Mean reward reduction (comparison).", "orient": "bottom", "anchor": "start", "frame": "group", "dx": -44, "offset": 23},
      "mark": {"type": "line", "strokeWidth": 1.4, "clip": true},
      "encoding": {
        "x": {"field": "e", "type": "quantitative",
              "scale": {"domain": [-0.05, 1.05], "nice": false, "zero": false},
              "axis": {"values": [0, 0.2, 0.4, 0.6, 0.8, 1.0], "format": ".1f", "title": "ε", "titleFontStyle": "italic"}},
        "y": {"field": "v", "type": "quantitative",
              "scale": {"domain": [-14, 300], "nice": false, "zero": false},
              "axis": {"values": [0, 50, 100, 150, 200, 250, 300], "labelExpr": "datum.value + '%'", "title": "mean reward reduction"}},
        "color": {"field": "k", "type": "nominal",
                  "scale": {"domain": ["adv policy", "adv policy bound", "one step adv grad", "iterative adv grad", "sgd adv grad", "mom adv grad"],
                            "range": ["#1f77b4", "#ff7f0e", "#2ca02c", "#d62728", "#9467bd", "#8c564b"]},
                  "legend": {"title": null, "orient": "none", "legendX": -49, "legendY": 383, "columns": 3}}
      }
    }
  ]
}
